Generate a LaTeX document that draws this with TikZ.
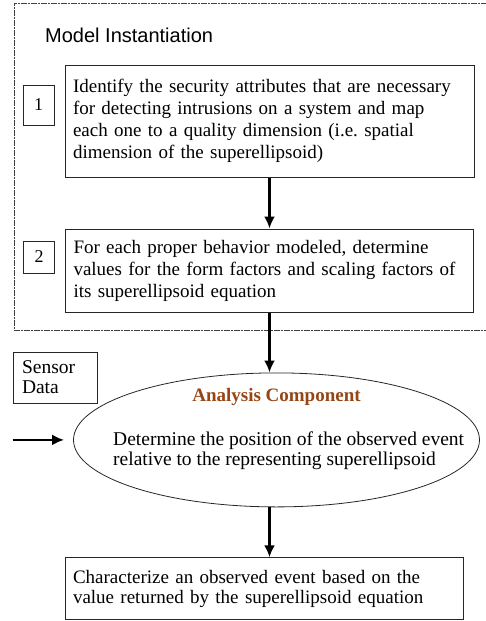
\documentclass[tikz,border=0pt]{standalone}
\usepackage{fontspec}
\setmainfont{Liberation Serif}
\newfontfamily\titlefont{Liberation Sans}
\usepackage{tikz}
\usetikzlibrary{arrows.meta,shapes.geometric,positioning}
\definecolor{analysisbrown}{RGB}{150,70,20}
\tikzstyle{stepnode} = [rectangle, draw=black!85, line width=1pt, align=left,
    inner xsep=8pt, inner ysep=6pt, font=\fontsize{19}{22}\selectfont]
\tikzstyle{numnode} = [rectangle, draw=black!85, line width=1pt,
    minimum width=31pt, font=\fontsize{18}{20}\selectfont]
\tikzstyle{sensornode} = [rectangle, draw=black!85, line width=1pt, align=left,
    text width=66pt, inner xsep=9pt, minimum height=51pt, font=\fontsize{19.5}{20}\selectfont]
\tikzstyle{analysisnode} = [ellipse, draw=black!85, line width=0.8pt,
    minimum width=406pt, minimum height=134pt, inner sep=0pt]
\tikzstyle{line} = [draw, line width=2.5pt, -{Latex[length=12pt,width=11pt]}]
\tikzstyle{outerframe} = [draw=black!75, line width=0.8pt, dash pattern=on 6pt off 1pt on 2pt off 1pt]

\begin{document}
\begin{tikzpicture}[x=1pt,y=-1pt]
    \useasboundingbox (0,0) rectangle (485,621);
    % Model instantiation frame
    \draw [outerframe] (487,3) -- (14,3) -- (14,330) -- (487,330);
    \node [anchor=base west, inner sep=0pt, font=\titlefont\fontsize{20}{24}\selectfont] (modeltitle) at (45,42) {Model Instantiation};

    % Place nodes
    \node [stepnode, text width=393pt, minimum height=112pt] (step1) at (269.5,121)
        {Identify the security attributes that are necessary\\
         for detecting intrusions on a system and map\\
         each one to a quality dimension (i.e.\ spatial\\
         dimension of the superellipsoid)};
    \node [numnode, minimum height=40pt, left=10pt of step1.west, yshift=16pt] (num1) {1};

    \node [stepnode, text width=392pt, minimum height=83pt, below=51pt of step1] (step2)
        {For each proper behavior modeled, determine\\
         values for the form factors and scaling factors of\\
         its superellipsoid equation};
    \node [numnode, minimum height=32pt, left=10pt of step2.west, yshift=13.5pt] (num2) {2};

    \node [analysisnode, below=60pt of step2, xshift=7pt] (analysis) {};
    \node [anchor=base, inner sep=0pt, text=analysisbrown, font=\bfseries\fontsize{19}{22}\selectfont]
        (analysistitle) at ([yshift=38pt]analysis.center) {Analysis Component};
    \node [anchor=north west, align=left, inner sep=0pt, font=\fontsize{19.5}{20}\selectfont]
        (analysistext) at (113,432) {Determine the position of the observed event\\
         relative to the representing superellipsoid};

    \node [sensornode] (sensor) at (55,377.5) {Sensor\\Data};
    \coordinate (sensorin) at (sensor.west |- analysis.west);

    \coordinate (step3corner) at (analysis.south -| step1.west);
    \node [stepnode, text width=382pt, minimum height=62pt, anchor=north west,
        font=\fontsize{19}{20}\selectfont] (step3) at ([yshift=-50pt]step3corner)
        {Characterize an observed event based on the\\
         value returned by the superellipsoid equation};

    % Connectors
    \path [line] (step1) -- (step2);
    \path [line] (step2.south) -- (step2.south |- analysis.north);
    \path [line] (analysis.south -| step1) -- (step3.north -| step1);
    \path [line, shorten >=9pt] (sensorin) -- (analysis.west);
\end{tikzpicture}
\end{document}
